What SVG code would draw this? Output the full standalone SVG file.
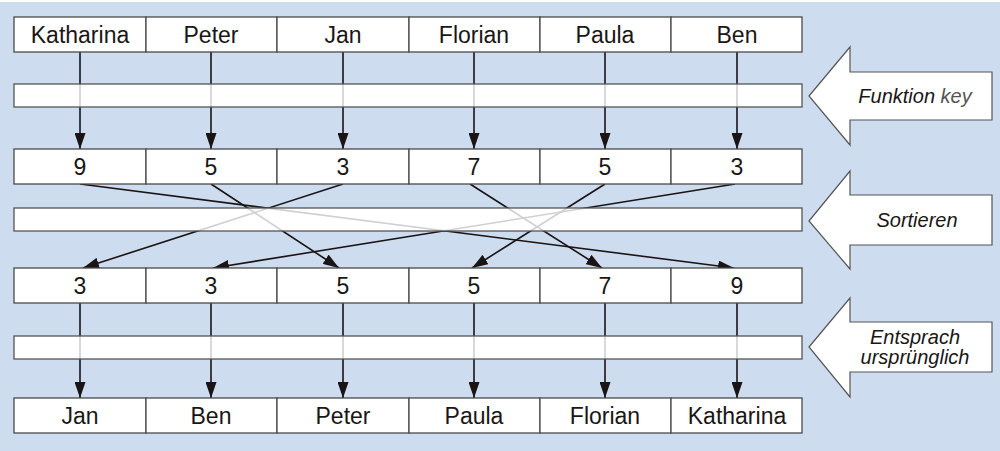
<svg xmlns="http://www.w3.org/2000/svg" width="1000" height="451" viewBox="0 0 1000 451">
<style>
.cell{fill:#fff;stroke:#4a4a4a;stroke-width:1.3}
.barbase{fill:#fff;stroke:none}
.bar{fill:#fff;fill-opacity:0.8;stroke:#555;stroke-width:1.3}
.t{font-family:"Liberation Sans",Arial,sans-serif;font-size:23px;fill:#1a1616;text-anchor:middle}
.big{fill:#fff;stroke:#555;stroke-width:1.2}
.lab{font-family:"Liberation Sans",Arial,sans-serif;font-style:italic;font-size:20px;fill:#1a1616;text-anchor:middle}
</style>
<defs>
<marker id="ahv" viewBox="0 0 16 11" refX="16" refY="5.5" markerWidth="16" markerHeight="11" markerUnits="userSpaceOnUse" orient="auto">
<path d="M0,0 L16,5.5 L0,11 Z" fill="#1a1414"/>
</marker>
</defs>
<rect x="0" y="0" width="1000" height="451" fill="#cddcef"/>
<rect x="0" y="0" width="1000" height="2" fill="#fff"/>

<g id="bar-bases">
<rect class="barbase" x="14" y="84" width="788" height="23"/>
<rect class="barbase" x="14" y="208" width="788" height="23"/>
<rect class="barbase" x="14" y="336" width="788" height="23"/>
</g>

<g id="connectors">
<g stroke="#1a1414" stroke-width="1.6" fill="none" marker-end="url(#ahv)">
<line x1="80" y1="52" x2="80" y2="149"/>
<line x1="211" y1="52" x2="211" y2="149"/>
<line x1="343" y1="52" x2="343" y2="149"/>
<line x1="474" y1="52" x2="474" y2="149"/>
<line x1="605" y1="52" x2="605" y2="149"/>
<line x1="737" y1="52" x2="737" y2="149"/>
<line x1="80" y1="303" x2="80" y2="398"/>
<line x1="211" y1="303" x2="211" y2="398"/>
<line x1="343" y1="303" x2="343" y2="398"/>
<line x1="474" y1="303" x2="474" y2="398"/>
<line x1="605" y1="303" x2="605" y2="398"/>
<line x1="737" y1="303" x2="737" y2="398"/>
</g>
<g stroke="#1a1414" stroke-width="1.6" fill="none" marker-end="url(#ahv)">
<line x1="80" y1="184" x2="734" y2="268"/>
<line x1="211" y1="184" x2="339" y2="268"/>
<line x1="343" y1="184" x2="83" y2="268"/>
<line x1="470" y1="184" x2="602" y2="268"/>
<line x1="605" y1="184" x2="472" y2="268"/>
<line x1="735" y1="184" x2="213" y2="268"/>
</g>
</g>

<g id="bar1"><rect class="bar" x="14" y="84" width="788" height="23"/></g>
<g id="bar2"><rect class="bar" x="14" y="208" width="788" height="23"/></g>
<g id="bar3"><rect class="bar" x="14" y="336" width="788" height="23"/></g>

<g id="row1">
<rect class="cell" x="14" y="17" width="132" height="35"/><text class="t" x="80" y="43">Katharina</text>
<rect class="cell" x="146" y="17" width="131" height="35"/><text class="t" x="211" y="43">Peter</text>
<rect class="cell" x="277" y="17" width="132" height="35"/><text class="t" x="343" y="43">Jan</text>
<rect class="cell" x="409" y="17" width="131" height="35"/><text class="t" x="474" y="43">Florian</text>
<rect class="cell" x="540" y="17" width="131" height="35"/><text class="t" x="605" y="43">Paula</text>
<rect class="cell" x="671" y="17" width="131" height="35"/><text class="t" x="737" y="43">Ben</text>
</g>
<g id="row2">
<rect class="cell" x="14" y="149" width="132" height="35"/><text class="t" x="80" y="175">9</text>
<rect class="cell" x="146" y="149" width="131" height="35"/><text class="t" x="211" y="175">5</text>
<rect class="cell" x="277" y="149" width="132" height="35"/><text class="t" x="343" y="175">3</text>
<rect class="cell" x="409" y="149" width="131" height="35"/><text class="t" x="474" y="175">7</text>
<rect class="cell" x="540" y="149" width="131" height="35"/><text class="t" x="605" y="175">5</text>
<rect class="cell" x="671" y="149" width="131" height="35"/><text class="t" x="737" y="175">3</text>
</g>
<g id="row3">
<rect class="cell" x="14" y="268" width="132" height="35"/><text class="t" x="80" y="294">3</text>
<rect class="cell" x="146" y="268" width="131" height="35"/><text class="t" x="211" y="294">3</text>
<rect class="cell" x="277" y="268" width="132" height="35"/><text class="t" x="343" y="294">5</text>
<rect class="cell" x="409" y="268" width="131" height="35"/><text class="t" x="474" y="294">5</text>
<rect class="cell" x="540" y="268" width="131" height="35"/><text class="t" x="605" y="294">7</text>
<rect class="cell" x="671" y="268" width="131" height="35"/><text class="t" x="737" y="294">9</text>
</g>
<g id="row4">
<rect class="cell" x="14" y="398" width="132" height="35"/><text class="t" x="80" y="424">Jan</text>
<rect class="cell" x="146" y="398" width="131" height="35"/><text class="t" x="211" y="424">Ben</text>
<rect class="cell" x="277" y="398" width="132" height="35"/><text class="t" x="343" y="424">Peter</text>
<rect class="cell" x="409" y="398" width="131" height="35"/><text class="t" x="474" y="424">Paula</text>
<rect class="cell" x="540" y="398" width="131" height="35"/><text class="t" x="605" y="424">Florian</text>
<rect class="cell" x="671" y="398" width="131" height="35"/><text class="t" x="737" y="424">Katharina</text>
</g>

<g id="arrow-key">
<path class="big" d="M809,96 L850,47 L850,72 L992,72 L992,120 L850,120 L850,145 Z"/>
<text class="lab" x="915" y="103">Funktion <tspan fill="#555">key</tspan></text>
</g>
<g id="arrow-sort">
<path class="big" d="M809,221 L850,171 L850,195 L992,195 L992,245 L850,245 L850,269 Z"/>
<text class="lab" x="917" y="227">Sortieren</text>
</g>
<g id="arrow-orig">
<path class="big" d="M809,347 L850,298 L850,322 L992,322 L992,372 L850,372 L850,397 Z"/>
<text class="lab" x="915" y="344">Entsprach</text>
<text class="lab" x="915" y="364">ursprünglich</text>
</g>
</svg>
